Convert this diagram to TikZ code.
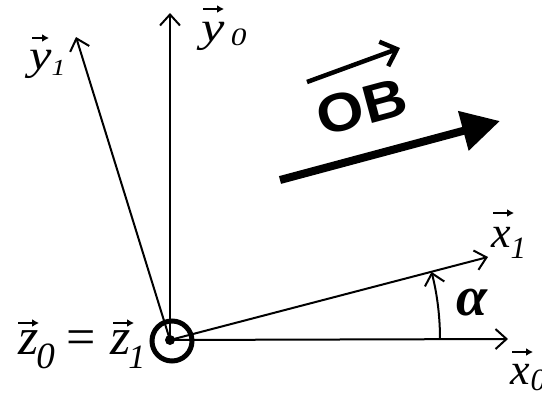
\documentclass[tikz,border=0pt]{standalone}
\usepackage{fontspec}
\setmainfont{Liberation Serif}
\setsansfont{Liberation Sans}
\usetikzlibrary{arrows.meta}
% #1 letter, #2 subscript, #3 subscript size, #4 subscript drop, #5 gap
\newcommand{\slab}[5]{{\itshape #1}\hspace{#5}\raisebox{-#4}{\fontsize{#3}{#3}\selectfont\itshape #2}}
\begin{document}
\begin{tikzpicture}[x=1pt,y=-1pt,
  axis/.style={line width=2pt,-{Straight Barb[length=11pt,width=20pt]}},
  lab/.style={inner sep=0pt,anchor=base west},
  vecacc/.style={line width=2pt,-{Latex[length=7pt,width=8pt]}},
]
\useasboundingbox (0,0) rectangle (542,399);
\fill[white] (0,0) rectangle (542,399);
% axes
\coordinate (O) at (170,340);
\coordinate (X0) at (508,339);
\coordinate (X1) at (488,257);
\coordinate (Y0) at (170,13);
\coordinate (Y1) at (76,37);
\draw[axis] (O) -- (X0);
\draw[axis] (O) -- (X1);
\draw[axis] (O) -- (Y0);
\draw[axis] (O) -- (Y1);
% angle arc
\coordinate (A0) at (440,339);
\draw[axis] (A0) arc[start angle=0,end angle=14.4,radius=270pt];
% origin symbol
\node[circle,draw,line width=5pt,minimum size=40pt,inner sep=0pt] (Oc) at (172,341) {};
\fill (O) circle (5pt);
% labels
\node[lab,font=\fontsize{44}{44}\selectfont] (lx0) at (510,384) {\slab{x}{0}{31pt}{6pt}{1pt}};
\draw[vecacc] ([shift={(2,-32)}]lx0.base west) -- +(21,0);
\node[lab,font=\fontsize{44}{44}\selectfont] (lx1) at (491,247) {\slab{x}{1}{31pt}{11pt}{0pt}};
\draw[vecacc] ([shift={(2,-34)}]lx1.base west) -- +(21,0);
\node[lab,font=\fontsize{42}{42}\selectfont,xscale=1.25] (ly0) at (201,41) {\slab{y}{0}{25pt}{4pt}{5pt}};
\draw[vecacc] ([shift={(2,-32)}]ly0.base west) -- +(21,0);
\node[lab,font=\fontsize{42}{42}\selectfont,xscale=1.2] (ly1) at (29,69) {\slab{y}{1}{23pt}{6pt}{0pt}};
\draw[vecacc] ([shift={(3,-31)}]ly1.base west) -- +(17,0);
\node[lab,font=\fontsize{52}{52}\selectfont] (lz) at (18,354)
  {\slab{z}{0}{37pt}{14pt}{-2pt}\hspace{12pt}=\hspace{14pt}\slab{z}{1}{34pt}{14pt}{-2pt}};
\draw[vecacc] ([shift={(0,-31)}]lz.base west) -- +(21,0);
\draw[vecacc] ([shift={(95,-31)}]lz.base west) -- +(21,0);
\node[lab,font=\fontsize{56}{56}\selectfont\bfseries\itshape] (alpha) at (456,315) {α};
% OB vector
\node[font=\fontsize{54}{54}\selectfont\sffamily\bfseries,rotate=15,xscale=1.12,inner sep=0pt] (OB) at (362,107) {OB};
\coordinate (OBa) at (307,82);
\coordinate (OBb) at (400,48);
\draw[line width=4.5pt,-{Straight Barb[length=14pt,width=26pt]}] (OBa) -- (OBb);
\coordinate (Va) at (280,180);
\coordinate (Vb) at (500,121);
\draw[line width=8pt,-{Triangle[length=38pt,width=39pt]}] (Va) -- (Vb);
\end{tikzpicture}
\end{document}
